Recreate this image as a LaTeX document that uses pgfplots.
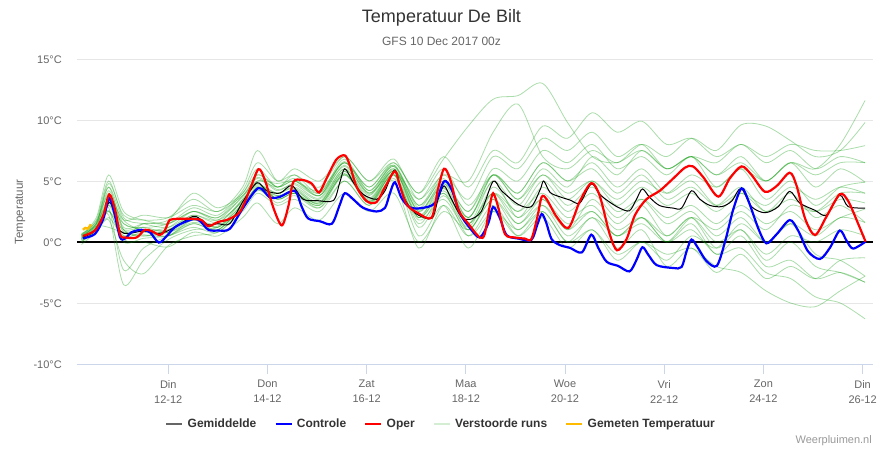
\documentclass[border=0pt]{standalone}
\usepackage{pgfplots}
\pgfplotsset{compat=1.18}
\usepackage{pgfplotstable}
\usepackage{fontspec}
\setmainfont{Liberation Sans}
\definecolor{txtdark}{HTML}{333333}
\definecolor{txtgray}{HTML}{666666}
\definecolor{gridc}{HTML}{E6E6E6}
\definecolor{axisc}{HTML}{CCD6EB}
\definecolor{ensc}{HTML}{009600}
\definecolor{enslegend}{HTML}{D3EED3}
\definecolor{meas}{HTML}{FFBB00}
\definecolor{credit}{HTML}{999999}
\definecolor{opblue}{HTML}{0000FF}
\definecolor{opred}{HTML}{FF0000}

\pgfplotstableread{
d A B C D E F G H I J K L M N O P Q R S T
0.25 0.0 0.3 -0.2 0.6 0.5 0.4 0.2 0.5 0.7 0.3 0.4 0.1 0.6 0.0 0.5 0.2 0.3 0.6 0.3 0.4
0.55 1.0 1.5 0.8 2.0 1.8 1.4 1.0 1.3 1.6 1.1 1.2 1.0 1.7 1.0 1.5 1.2 1.0 1.5 1.2 1.3
0.8 2.2 2.8 1.8 5.5 5.0 4.2 3.0 3.5 4.8 2.5 4.0 3.0 3.8 2.0 4.5 3.2 2.6 4.5 2.5 1.2
1.1 -3.5 -2.3 -1.5 2.5 2.0 1.5 0.5 1.0 2.2 0.2 1.2 1.5 1.8 0.5 1.0 0.8 0.0 1.8 1.0 0.8
1.5 -1.5 -0.5 -2.6 1.8 1.5 1.2 0.8 0.5 1.8 0.0 1.5 1.0 2.2 1.5 0.5 0.6 0.3 1.0 1.2 1.0
2.0 0.2 0.5 -0.3 1.5 1.2 1.5 0.5 0.8 2.0 -0.4 1.8 0.8 2.0 1.5 1.0 0.5 0.5 1.2 0.8 1.0
2.5 1.0 1.5 0.5 2.5 2.2 2.8 1.5 2.0 3.5 0.8 4.0 1.8 3.0 2.5 2.0 1.8 1.2 2.5 1.6 2.2
3.0 1.2 1.0 0.8 2.0 1.8 2.2 1.0 1.2 2.5 0.5 2.8 1.5 2.5 1.8 1.2 1.0 0.8 2.0 1.3 1.6
3.5 2.8 3.0 2.5 4.0 3.8 4.2 3.0 3.2 4.5 2.0 4.0 3.5 3.8 3.3 3.5 3.0 2.8 3.7 3.1 3.4
3.8 4.5 5.5 4.0 5.5 5.2 6.5 4.5 4.8 7.5 3.2 6.0 4.6 5.0 4.8 5.0 4.2 4.3 5.3 4.4 4.7
4.2 3.5 4.5 3.0 4.5 4.2 5.0 3.8 3.5 5.0 1.5 4.5 4.0 4.8 3.5 4.5 3.8 3.2 4.3 3.6 4.0
4.55 4.0 5.0 3.5 5.0 4.8 5.5 4.2 4.0 6.0 2.8 5.5 4.5 5.0 4.0 5.2 4.0 3.8 4.7 4.3 4.4
5.05 3.0 3.8 2.5 4.0 3.8 4.5 3.2 3.0 5.0 1.8 4.0 3.5 4.2 2.8 3.8 3.2 2.8 3.6 3.1 3.3
5.55 5.6 6.5 5.0 6.5 6.2 7.0 5.8 5.5 7.0 4.0 6.8 6.0 6.5 5.0 6.6 5.8 5.5 6.3 5.6 6.0
6.05 3.3 4.2 3.0 4.5 4.0 5.0 3.5 3.2 5.0 2.5 4.2 3.8 4.5 3.0 4.0 3.4 3.2 3.9 3.3 3.6
6.55 5.5 6.2 5.0 6.5 5.8 6.8 5.8 5.5 6.5 4.0 6.3 6.0 6.3 5.5 6.2 5.8 5.2 6.0 5.6 5.9
7.05 2.0 3.0 -0.5 4.0 3.5 3.5 2.5 1.5 4.0 0.0 3.0 2.0 2.8 0.5 2.5 2.0 1.8 2.6 1.2 2.2
7.55 4.0 5.5 3.0 6.8 5.5 6.0 4.5 4.0 7.0 2.5 5.0 4.8 5.2 3.0 5.0 4.2 3.5 4.8 3.8 4.4
8.05 1.5 3.5 0.5 9.5 5.0 3.0 1.0 0.5 4.5 1.0 2.0 1.5 2.0 -0.5 2.5 1.5 1.0 2.5 1.2 2.0
8.55 4.0 7.0 3.0 11.7 9.0 5.5 4.0 2.5 7.5 3.5 5.5 5.0 5.5 2.5 6.0 4.0 3.5 5.5 4.5 5.0
9.05 2.0 6.0 0.5 12.0 11.3 3.5 2.5 1.0 6.5 1.5 4.0 2.0 3.5 0.5 5.0 1.5 1.0 4.0 2.5 3.0
9.55 3.5 8.5 2.0 13.0 7.0 5.5 4.0 2.5 9.5 3.0 6.5 4.5 6.0 2.5 7.5 3.5 3.0 6.5 5.0 5.5
10.05 1.5 7.5 -0.5 9.8 6.0 4.0 2.0 0.0 8.5 0.5 5.0 2.5 4.5 0.0 6.5 1.0 1.0 5.0 3.0 3.5
10.55 2.5 9.0 1.0 7.0 7.5 5.0 3.0 1.0 10.6 2.0 6.5 4.0 7.0 2.0 8.0 3.5 2.5 6.0 4.5 5.0
11.05 0.5 7.0 -1.5 6.5 6.5 3.5 1.0 -1.0 9.0 0.5 4.5 2.0 5.5 -0.5 6.0 1.5 0.5 4.0 2.5 3.0
11.55 2.0 8.0 0.0 7.5 8.0 5.0 2.0 0.0 9.9 1.5 6.0 3.5 7.5 1.0 7.0 3.0 2.0 5.5 3.5 4.5
12.05 0.0 6.0 -1.5 6.0 7.0 4.0 0.0 -1.0 8.0 0.0 4.0 2.0 6.0 -2.0 5.5 0.5 0.5 3.5 1.5 3.0
12.55 1.5 7.0 0.5 7.0 8.5 5.5 1.0 -0.5 8.5 2.0 5.0 3.0 7.0 -0.5 7.0 2.0 2.0 4.5 2.5 4.0
13.05 -1.0 5.5 -0.5 5.5 7.5 4.5 -1.0 -2.0 7.0 1.0 3.0 1.5 6.5 -2.5 4.5 -0.5 0.0 3.0 0.5 2.5
13.55 0.5 6.5 1.5 7.0 9.6 6.0 -0.5 -2.5 8.0 2.5 4.0 3.0 8.0 -1.0 6.0 1.0 1.0 4.5 2.0 4.0
14.05 -2.0 5.0 0.0 5.0 9.5 5.0 -2.5 -4.0 7.0 1.0 2.5 1.5 6.5 -3.0 3.5 -1.5 -1.0 2.5 0.0 3.0
14.55 -1.5 6.5 1.5 6.5 8.3 6.5 -3.0 -5.0 8.0 3.0 3.5 2.5 7.5 -2.0 5.0 0.0 0.5 4.0 1.5 4.5
15.05 -3.0 5.5 0.5 4.5 7.0 6.0 -4.5 -5.3 7.5 2.5 2.5 1.0 6.0 -3.0 3.0 -2.0 0.0 2.0 -1.0 3.5
15.55 -2.5 6.5 2.0 6.0 7.5 8.0 -5.0 -4.0 7.5 4.0 3.5 2.0 7.0 -1.5 4.5 -2.5 1.0 3.0 -1.5 4.5
16.05 -3.3 6.5 1.6 4.9 9.8 11.6 -6.3 -2.8 7.9 4.0 3.2 2.7 6.5 -1.3 4.9 -3.3 0.5 1.6 -2.8 4.0
}\members

\begin{document}
\begin{tikzpicture}[x=1pt,y=1pt]
\path[use as bounding box] (0,0) rectangle (883,450);
\node[font=\fontsize{18}{20}\selectfont, text=txtdark] at (441.5,432) {Temperatuur De Bilt};
\node[font=\fontsize{12}{14}\selectfont, text=txtgray] at (441.5,409) {GFS 10 Dec 2017 00z};
\node[font=\fontsize{11}{13}\selectfont, text=credit, anchor=east, inner sep=0pt] at (872,9) {Weerpluimen.nl};
\node[font=\fontsize{11.5}{13}\selectfont, text=txtgray, rotate=90] at (20,238) {Temperatuur};
\begin{axis}[
  at={(77pt,86pt)}, anchor=south west,
  scale only axis, width=796pt, height=305pt,
  xmin=0.16, xmax=16.21, ymin=-10, ymax=15,
  axis lines*=left,
  x axis line style={draw=axisc, line width=1pt},
  y axis line style={draw=none},
  xtick={2,4,6,8,10,12,14,16},
  xticklabels={{Din\\12-12},{Don\\14-12},{Zat\\16-12},{Maa\\18-12},{Woe\\20-12},{Vri\\22-12},{Zon\\24-12},{Din\\26-12}},
  x tick label style={align=center, font=\fontsize{11}{15}\selectfont, text=txtgray, inner sep=0pt, anchor=north, yshift=-6pt},
  xtick style={draw=axisc, line width=1pt},
  tick align=outside, major tick length=10pt,
  ytick={-10,-5,0,5,10,15},
  yticklabels={-10°C,-5°C,0°C,5°C,10°C,15°C},
  y tick label style={font=\fontsize{11}{13}\selectfont, text=txtgray, inner sep=0pt, anchor=east, xshift=-5pt, yshift=-1pt},
  ytick style={draw=none},
  ymajorgrids, grid style={gridc, line width=1pt},
  legend image code/.code={\draw[#1, line width=2.5pt] (0pt,0pt) -- (16pt,0pt);},
  legend style={at={(0.4567,-0.197)}, anchor=center, draw=none, fill=none,
    font=\bfseries\fontsize{12}{14}\selectfont, text=txtdark,
    nodes={inner sep=1pt},
    /tikz/every odd column/.append style={column sep=3pt},
    /tikz/every even column/.append style={column sep=17pt}},
  legend columns=5, legend cell align=left,
]
\addlegendimage{color=txtgray}
\addlegendentry{Gemiddelde}
\addlegendimage{color=opblue}
\addlegendentry{Controle}
\addlegendimage{color=opred}
\addlegendentry{Oper}
\addlegendimage{color=enslegend}
\addlegendentry{Verstoorde runs}
\addlegendimage{color=meas}
\addlegendentry{Gemeten Temperatuur}

\addplot[black, line width=1.2pt, forget plot] coordinates {(0.16,0) (16.21,0)};

\pgfplotsinvokeforeach{A,B,C,D,E,F,G,H,I,J,K,L,M,N,O,P,Q,R,S,T}{
  \addplot[ensc, opacity=0.33, line width=0.8pt, smooth, forget plot] table[x=d, y=#1] {\members};
}

% Gemiddelde
\addplot[black, line width=1pt, smooth, forget plot] coordinates {
(0.28,0.4) (0.52,0.9) (0.69,2.0) (0.81,3.27) (0.93,2.3) (1.03,0.9) (1.2,0.7) (1.5,0.9) (1.83,0.7) (2.13,1.2) (2.5,2.1) (2.67,1.8) (2.81,1.4) (3.0,1.5) (3.24,1.5) (3.51,3.35) (3.79,4.86) (3.98,4.2) (4.25,4.0) (4.49,4.63) (4.72,3.5) (4.99,3.4) (5.33,3.4) (5.46,4.9) (5.56,6.0) (5.73,4.9) (5.93,3.9) (6.2,3.5) (6.37,4.2) (6.57,5.9) (6.73,3.8) (6.97,2.4) (7.31,1.93) (7.44,3.5) (7.56,4.6) (7.7,3.6) (7.91,2.07) (8.08,1.85) (8.31,2.5) (8.55,4.97) (8.72,4.2) (9.06,3.07) (9.32,2.9) (9.5,4.3) (9.57,5.0) (9.7,4.06) (9.9,3.7) (10.1,3.44) (10.3,3.2) (10.53,4.77) (10.7,3.9) (10.9,3.27) (11.1,2.78) (11.3,2.56) (11.44,3.5) (11.56,4.35) (11.71,3.64) (11.91,2.98) (12.18,2.78) (12.35,2.78) (12.55,4.2) (12.72,3.5) (12.92,3.0) (13.16,2.9) (13.36,3.35) (13.55,4.4) (13.76,2.9) (14.03,2.4) (14.3,2.9) (14.53,4.15) (14.73,3.2) (15.04,2.6) (15.27,2.2) (15.54,3.83) (15.71,2.9) (16.05,2.78)
};

% Controle
\addplot[opblue, line width=2.2pt, smooth, forget plot] coordinates {
(0.28,0.3) (0.52,0.65) (0.69,1.9) (0.81,3.6) (0.91,2.4) (1.03,0.37) (1.13,0.28) (1.26,0.8) (1.46,1.0) (1.63,0.8) (1.81,-0.05) (1.97,0.5) (2.13,1.2) (2.34,1.65) (2.54,1.9) (2.66,1.65) (2.81,1.0) (3.01,0.94) (3.24,1.08) (3.51,2.8) (3.82,4.43) (4.05,3.64) (4.25,3.7) (4.55,4.2) (4.69,2.9) (4.82,1.93) (5.06,1.7) (5.3,1.5) (5.46,3.07) (5.56,4.0) (5.73,3.5) (5.93,2.8) (6.2,2.5) (6.37,2.8) (6.47,4.0) (6.57,4.9) (6.7,3.64) (6.87,2.84) (7.11,2.78) (7.38,3.2) (7.56,4.97) (7.71,4.35) (7.88,2.36) (8.08,1.16) (8.28,0.37) (8.45,1.5) (8.55,2.87) (8.69,1.93) (8.82,0.57) (9.06,0.28) (9.32,0.17) (9.44,1.4) (9.53,2.3) (9.62,1.6) (9.73,0.23) (9.9,-0.26) (10.1,-0.48) (10.34,-0.85) (10.53,0.6) (10.67,-0.48) (10.84,-1.62) (11.07,-1.96) (11.3,-2.41) (11.44,-1.48) (11.56,-0.43) (11.68,-1.05) (11.85,-1.9) (12.18,-2.13) (12.35,-2.05) (12.45,-0.77) (12.55,0.2) (12.68,-0.48) (12.85,-1.55) (13.06,-1.96) (13.23,0.08) (13.39,2.64) (13.56,4.4) (13.7,3.35) (13.9,1.08) (14.06,-0.11) (14.27,0.65) (14.53,1.8) (14.7,0.94) (14.9,-0.77) (15.14,-1.39) (15.34,-0.48) (15.54,0.94) (15.68,0.08) (15.81,-0.54) (16.06,0.03)
};

% Oper
\addplot[opred, line width=2.2pt, smooth, forget plot] coordinates {
(0.28,0.5) (0.52,0.94) (0.69,2.2) (0.81,3.9) (0.93,2.6) (1.03,0.6) (1.13,0.37) (1.36,0.37) (1.53,1.0) (1.67,0.88) (1.83,0.57) (1.93,0.94) (2.03,1.8) (2.2,1.9) (2.47,1.9) (2.67,1.8) (2.81,1.3) (3.01,1.65) (3.21,1.85) (3.45,2.5) (3.65,4.35) (3.82,5.97) (3.95,5.06) (4.12,2.8) (4.29,1.36) (4.42,2.9) (4.52,4.9) (4.69,5.1) (4.89,4.8) (5.04,4.06) (5.19,5.2) (5.39,6.76) (5.56,7.1) (5.66,6.3) (5.8,4.5) (6.0,3.35) (6.2,3.27) (6.37,4.5) (6.57,5.8) (6.67,4.6) (6.81,3.07) (7.04,2.36) (7.31,2.0) (7.44,4.35) (7.56,6.0) (7.68,5.2) (7.85,2.64) (8.05,1.5) (8.28,0.37) (8.38,0.65) (8.48,2.9) (8.55,4.0) (8.65,2.9) (8.79,0.65) (8.99,0.37) (9.19,0.28) (9.32,0.23) (9.44,2.0) (9.53,3.7) (9.63,3.5) (9.83,2.07) (10.07,1.16) (10.3,3.35) (10.53,4.83) (10.7,3.78) (10.9,0.65) (11.05,-0.68) (11.24,0.23) (11.41,2.2) (11.64,3.5) (11.91,4.2) (12.18,5.2) (12.42,6.1) (12.58,6.2) (12.79,5.3) (13.09,3.72) (13.32,5.2) (13.56,6.2) (13.76,5.5) (14.03,4.12) (14.27,4.6) (14.53,5.68) (14.67,4.6) (14.84,1.93) (15.04,0.57) (15.27,2.07) (15.54,3.92) (15.71,3.35) (15.91,1.5) (16.06,0.03)
};

% Gemeten Temperatuur
\addplot[meas, line width=2.5pt, smooth, forget plot] coordinates {
(0.28,1.0) (0.33,1.15) (0.38,1.1) (0.44,1.45)
};
\end{axis}
\end{tikzpicture}
\end{document}
